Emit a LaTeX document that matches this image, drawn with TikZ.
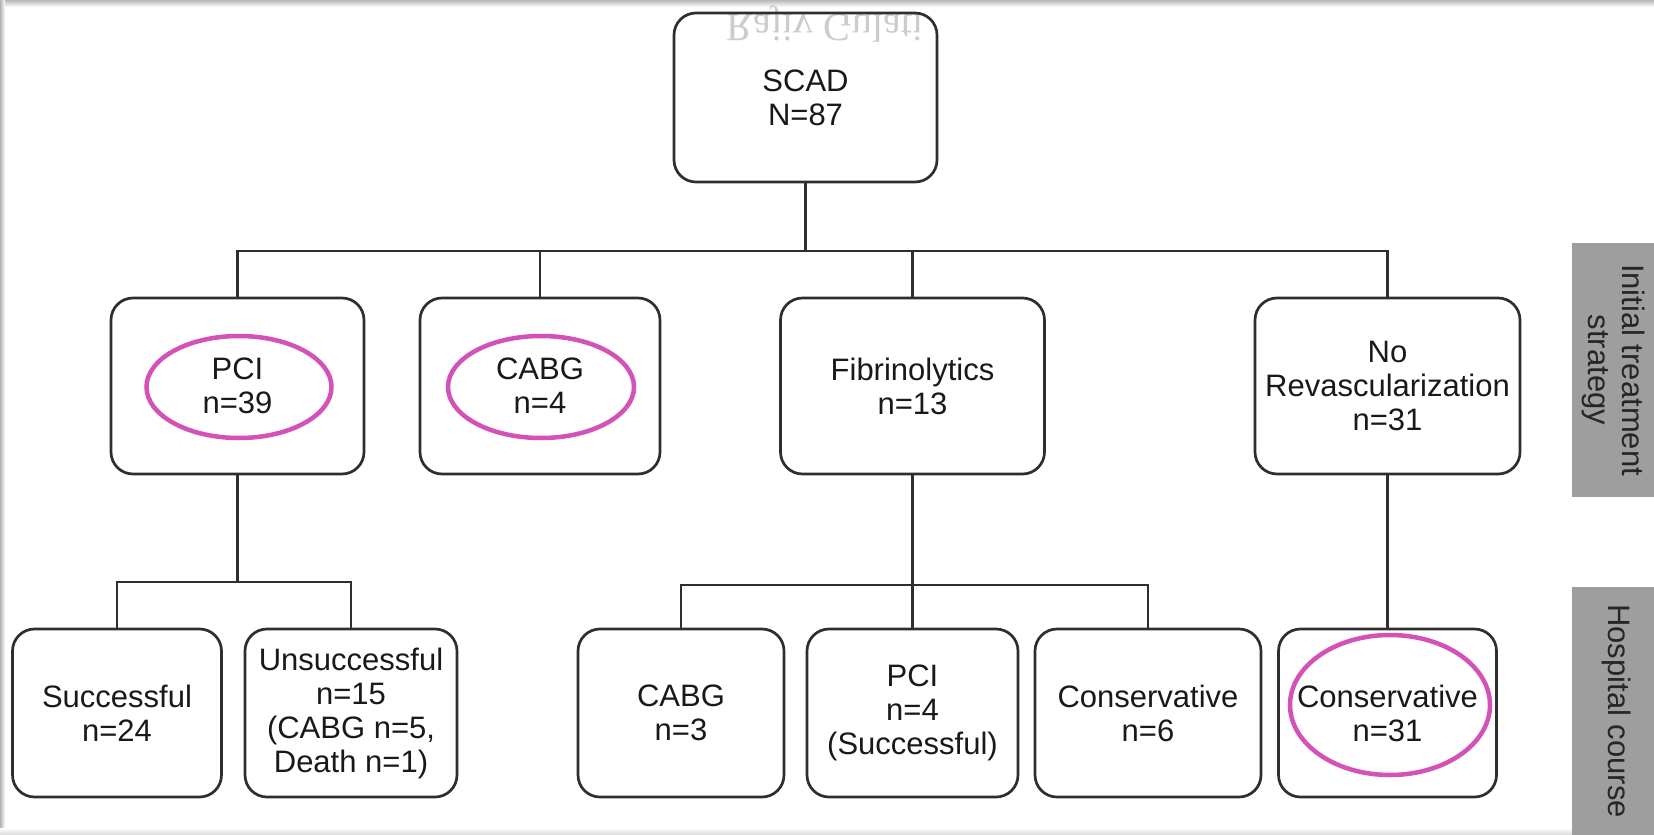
\documentclass[tikz,border=0pt]{standalone}
\usepackage{fontspec}
\usepackage{graphicx}
\setmainfont{Liberation Sans}
\newfontfamily\wmfont{Liberation Serif}
\definecolor{boxline}{HTML}{2E2E2E}
\definecolor{mag}{HTML}{D452B8}
\definecolor{barfill}{HTML}{9E9E9E}
\begin{document}
\begin{tikzpicture}[x=1pt,y=-1pt,
  fbox/.style={draw=boxline, line width=2.7pt, rounded corners=22pt, align=center,
    inner sep=0pt, text=black!90, font=\fontsize{31}{34}\selectfont},
  conn/.style={draw=boxline, line width=2.6pt},
  hl/.style={draw=mag, line width=4.5pt},
  barbox/.style={fill=barfill, draw=none, inner sep=0pt, minimum width=82pt},
  bartext/.style={rotate=-90, align=center, font=\fontsize{31}{34}\selectfont, text=black!85}
]
\useasboundingbox (0,0) rectangle (1654,835);
\fill[white] (0,0) rectangle (1654,835);
\shade[top color=black!28, bottom color=white] (0,0) rectangle (1654,7);
\shade[left color=black!30, right color=white] (0,0) rectangle (5,835);
\shade[top color=white, bottom color=black!15] (0,828) rectangle (1654,835);

% faint mirrored watermark
\node[anchor=center, inner sep=0pt, rotate=180, text=black!20, font=\wmfont\fontsize{40}{40}\selectfont] (wm) at (825,24) {\reflectbox{Rajiv Gulati}};

% top
\node[fbox, minimum width=263pt, minimum height=169pt] (scad) at (805.5,97.5) {SCAD\\N=87};

% row 1
\node[fbox, minimum width=253pt, minimum height=176pt] (pci) at (237.5,386) {PCI\\n=39};
\node[fbox, minimum width=240pt, minimum height=176pt] (cabg) at (540,386) {CABG\\n=4};
\node[fbox, minimum width=264pt, minimum height=176pt] (fib) at (912.5,386) {Fibrinolytics\\n=13};
\node[fbox, minimum width=265pt, minimum height=176pt] (norev) at (1387.5,386) {No\\Revascularization\\n=31};

% row 2
\node[fbox, minimum width=209pt, minimum height=168pt] (succ) at (117,713) {Successful\\n=24};
\node[fbox, minimum width=212pt, minimum height=168pt] (unsucc) at (351,713) {Unsuccessful\\n=15\\(CABG n=5,\\Death n=1)};
\node[fbox, minimum width=206pt, minimum height=168pt] (cabgb) at (681,713) {CABG\\n=3};
\node[fbox, minimum width=211pt, minimum height=168pt] (pcib) at (912.5,713) {PCI\\n=4\\(Successful)};
\node[fbox, minimum width=226pt, minimum height=168pt] (consa) at (1148,713) {Conservative\\n=6};
\node[fbox, minimum width=218pt, minimum height=168pt] (consb) at (1387.5,713) {Conservative\\n=31};

% connectors
\coordinate (busA) at (805.5,251);
\coordinate (busB) at (237.5,582);
\coordinate (busC) at (912.5,585);
\draw[conn] (scad.south) -- (busA);
\draw[conn] (pci.north) |- (norev.north |- busA) -- (norev.north);
\draw[conn] (cabg.north) -- (cabg.north |- busA);
\draw[conn] (fib.north) -- (fib.north |- busA);
\draw[conn] (pci.south) -- (busB);
\draw[conn] (succ.north) |- (unsucc.north |- busB) -- (unsucc.north);
\draw[conn] (fib.south) -- (pcib.north);
\draw[conn] (cabgb.north) |- (consa.north |- busC) -- (consa.north);
\draw[conn] (norev.south) -- (consb.north);

% highlights
\draw[hl] (239,387) ellipse [x radius=92.5pt, y radius=51pt];
\draw[hl] (541,387) ellipse [x radius=93pt, y radius=51pt];
\draw[hl] (1390,705) ellipse [x radius=100pt, y radius=70pt];

% side bars
\node[barbox, minimum height=254pt] (barinit) at (1613,370) {};
\node[bartext] (tinit) at (barinit.center) {Initial treatment\\strategy};
\node[barbox, minimum height=248pt] (barhosp) at (1613,711) {};
\node[bartext] (thosp) at (1616,711) {Hospital course};
\end{tikzpicture}
\end{document}
